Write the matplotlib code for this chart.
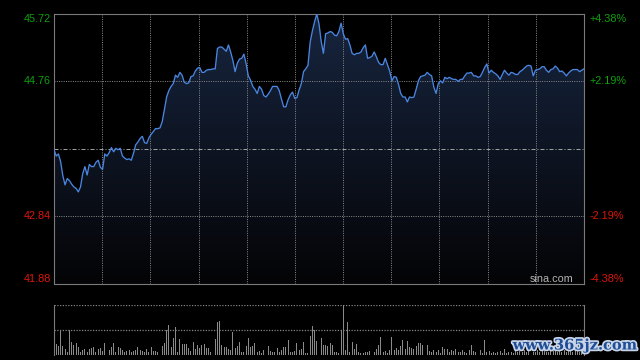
import numpy as np
import matplotlib
matplotlib.use('Agg')
import matplotlib.pyplot as plt
from matplotlib.patches import Polygon
from matplotlib.colors import LinearSegmentedColormap
import matplotlib.patheffects as pe

prev_close = 43.80
price_max = 45.72
price_min = 41.88
left_labels = ['45.72', '44.76', '42.84', '41.88']
left_values = [45.72, 44.76, 42.84, 41.88]
right_labels = ['+4.38%', '+2.19%', '-2.19%', '-4.38%']

prices = [
    43.79, 43.70, 43.73, 43.62, 43.42, 43.29, 43.38, 43.35, 43.30, 43.26,
    43.24, 43.19, 43.26, 43.45, 43.55, 43.43, 43.58, 43.55, 43.55, 43.61,
    43.64, 43.54, 43.51, 43.73, 43.70, 43.75, 43.82, 43.76, 43.81, 43.79,
    43.81, 43.70, 43.67, 43.65, 43.66, 43.64, 43.74, 43.86, 43.90, 43.95,
    43.98, 43.89, 43.88, 43.96, 44.01, 44.05, 44.09, 44.09, 44.10, 44.19,
    44.36, 44.54, 44.63, 44.69, 44.73, 44.85, 44.82, 44.89, 44.85, 44.75,
    44.73, 44.74, 44.83, 44.84, 44.91, 44.95, 44.96, 44.89, 44.89, 44.92,
    44.93, 44.93, 44.94, 44.94, 45.23, 45.25, 45.25, 45.22, 45.19, 45.28,
    45.18, 45.06, 44.90, 45.02, 45.08, 45.09, 45.15, 45.01, 44.84, 44.78,
    44.69, 44.65, 44.59, 44.69, 44.65, 44.56, 44.54, 44.58, 44.63, 44.69,
    44.69, 44.69, 44.63, 44.51, 44.40, 44.40, 44.50, 44.57, 44.61, 44.52,
    44.53, 44.64, 44.73, 44.90, 44.94, 44.99, 45.32, 45.48, 45.61, 45.72,
    45.58, 45.33, 45.16, 45.44, 45.45,
    45.47, 45.46, 45.42, 45.41, 45.47, 45.59, 45.44, 45.36, 45.37, 45.28,
    45.16, 45.14, 45.16, 45.16, 45.18, 45.24, 45.28, 45.09, 45.10, 45.12,
    45.18, 45.11, 45.03, 45.00, 45.00, 45.09, 45.00, 44.91, 44.77, 44.83,
    44.82, 44.72, 44.59, 44.54, 44.54, 44.47, 44.54, 44.53, 44.54, 44.65,
    44.77, 44.83, 44.84, 44.85, 44.89, 44.86, 44.84, 44.68, 44.59, 44.73,
    44.77, 44.74, 44.82, 44.80, 44.82, 44.80, 44.79, 44.79, 44.76, 44.79,
    44.79, 44.84, 44.88, 44.88, 44.89, 44.84, 44.84, 44.82, 44.83, 44.89,
    44.96, 45.01, 44.88, 44.92, 44.89, 44.87, 44.84, 44.79, 44.86, 44.92,
    44.88, 44.85, 44.89, 44.88, 44.86, 44.86, 44.90, 44.92, 44.95, 44.98,
    44.99, 44.98, 44.84, 44.92, 44.93, 44.94, 44.97, 44.97, 44.92, 44.89,
    44.93, 44.94, 44.98, 44.95, 44.90, 44.91, 44.88, 44.84, 44.88, 44.91,
    44.93, 44.93, 44.93, 44.90, 44.92, 44.94,
]

volumes = [
    77, 33, 27, 73, 27, 17, 10, 73, 39, 30,
    37, 23, 10, 15, 17, 10, 17, 20, 25, 10,
    17, 20, 13, 35, 10, 15, 25, 35, 10, 23,
    20, 15, 10, 13, 15, 10, 13, 15, 23, 15,
    13, 10, 17, 10, 23, 13, 13, 10, 10, 27,
    35, 75, 90, 23, 50, 83, 10, 47, 33, 33,
    33, 20, 13, 39, 17, 29, 20, 29, 33, 20,
    20, 10, 117, 47, 98, 102, 30, 23, 23, 17,
    15, 67, 20, 27, 39, 10, 10, 27, 50, 25,
    27, 37, 10, 13, 7, 15, 13, 27, 13, 10,
    10, 20, 10, 15, 23, 23, 45, 10, 10, 13,
    37, 15, 17, 39, 5, 7, 57, 87, 75, 43,
    45, 50, 30, 30, 27, 37, 30, 10, 10, 7,
    73, 150, 15, 97, 10, 39, 17, 33, 10, 7,
    5, 10, 9, 13, 13, 10, 17, 30, 53, 10,
    13, 7, 15, 53, 15, 20, 15, 27, 45, 17,
    41, 25, 20, 17, 27, 35, 37, 30, 17, 30,
    13, 10, 15, 10, 15, 7, 23, 17, 17, 10,
    15, 13, 17, 10, 10, 15, 10, 7, 15, 30,
    13, 10, 13, 15, 7, 45, 10, 13, 7, 10,
    5, 10, 13, 7, 17, 5, 10, 10, 7, 17,
    10, 13, 8, 15, 10, 12, 20, 8, 10, 14,
    9, 12, 16, 10, 8, 13, 11, 18, 9, 12,
    10, 15, 8, 12, 14, 9, 11, 16, 10, 13,
    20,
]

W, H = 640, 360
fig = plt.figure(figsize=(6.4, 3.6), dpi=100, facecolor='black')
ax = fig.add_axes([54 / W, 1 - 284 / H, 530 / W, 270 / H])
ax.set_facecolor('black')
n = len(prices)
x = np.arange(n)
xmax = n - 1
ax.set_xlim(0, xmax)
ax.set_ylim(price_min, price_max)

# gradient fill under the line
grad = np.linspace(1, 0, 256).reshape(-1, 1)
cmap = LinearSegmentedColormap.from_list('g', ['#040406', '#17253f'])
im = ax.imshow(grad, aspect='auto', cmap=cmap, origin='upper',
               extent=[0, xmax, price_min, price_max], zorder=1)
verts = list(zip(x, prices)) + [(xmax, price_min), (0, price_min)]
poly = Polygon(verts, closed=True, transform=ax.transData,
               facecolor='none', edgecolor='none')
ax.add_patch(poly)
im.set_clip_path(poly)

grid_c = '#858585'
for k in range(1, 11):
    ax.axvline(k * xmax / 11, color=grid_c, lw=0.72, ls=(0, (1, 1.3)), zorder=2)
for v in [44.76, 42.84]:
    ax.axhline(v, color=grid_c, lw=0.72, ls=(0, (1, 1.3)), zorder=2)
ax.axhline(prev_close, color='#a0a0a0', lw=0.72, ls=(0, (4, 2, 1, 2)), zorder=2)

ax.plot(x, prices, color='#4a85e0', lw=0.95, zorder=3)

for s in ax.spines.values():
    s.set_color('#7a7a7a')
    s.set_linewidth(0.8)
ax.set_xticks([])
ax.set_yticks([])

font = 'Liberation Sans'
fs = 7.8
green = '#10a010'
red = '#e0140c'
vas = ['top', 'center', 'center', 'bottom']
for i, (lab, v) in enumerate(zip(left_labels, left_values)):
    c = green if v > prev_close else red
    ax.text(-3 / 530, v, lab, transform=ax.get_yaxis_transform(), ha='right',
            va=vas[i], color=c, fontsize=fs, family=font)
    ax.text(1 + 6 / 530, v, right_labels[i], transform=ax.get_yaxis_transform(),
            ha='left', va=vas[i], color=c, fontsize=fs, family=font)

ax.text((573 - 54) / 530, 0.018, 'sina.com', transform=ax.transAxes, ha='right',
        va='center', color='#b4b4b4', fontsize=7.8, family=font, zorder=4)

# volume panel
axv = fig.add_axes([54 / W, 1 - 355 / H, 530 / W, 50.5 / H])
axv.set_facecolor('black')
vmax = max(volumes)
axv.set_xlim(0, xmax)
axv.set_ylim(0, vmax)
axv.bar(x, volumes, width=0.45, color='#8a8a8a', linewidth=0, zorder=2)
axv.axhline(vmax, color=grid_c, lw=0.9, ls=(0, (1, 1.2)), zorder=1)
axv.axhline(vmax / 2, color=grid_c, lw=0.9, ls=(0, (1, 1.2)), zorder=1)
for side in ['top', 'bottom']:
    axv.spines[side].set_visible(False)
for side in ['left', 'right']:
    axv.spines[side].set_color('#7a7a7a')
    axv.spines[side].set_linewidth(0.8)
axv.set_xticks([])
axv.set_yticks([])

fig.text(575 / W, 1 - 345.5 / H, 'www.365jz.com', ha='center', va='center',
         fontsize=10.5, fontweight='bold', family='DejaVu Serif', color='#1f4e96',
         path_effects=[pe.withStroke(linewidth=2.5, foreground='#c8d4e8')])

fig.savefig('out.png', dpi=100, facecolor='black')
